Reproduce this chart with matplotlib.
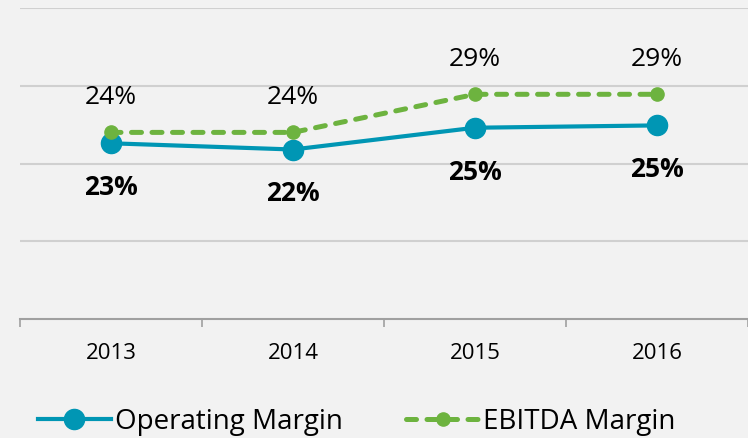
import matplotlib.pyplot as plt
from matplotlib.ticker import FixedLocator, NullFormatter

plt.rcParams["font.family"] = ["Open Sans", "DejaVu Sans"]

years = ["2013", "2014", "2015", "2016"]
operating = [0.226, 0.218, 0.246, 0.249]
ebitda = [0.240, 0.240, 0.289, 0.289]
operating_labels = ["23%", "22%", "25%", "25%"]
ebitda_labels = ["24%", "24%", "29%", "29%"]

BG = "#f2f2f2"
TEAL = "#0096b4"
GREEN = "#6db33f"

fig = plt.figure(figsize=(7.48, 4.38), dpi=100, facecolor=BG)
ax = fig.add_axes([20 / 748, 1 - 319 / 438, 728 / 748, 311 / 438])
ax.set_facecolor(BG)

x = list(range(len(years)))
ax.plot(x, operating, color=TEAL, lw=3, marker="o", ms=14.5,
        label="Operating Margin", zorder=3)
ax.plot(x, ebitda, color=GREEN, lw=3.6, ls=(0, (2.0, 2.1)), dash_capstyle="round",
        marker="o", ms=9.5, label="EBITDA Margin", zorder=4)

for xi, v, t in zip(x, operating, operating_labels):
    ax.annotate(t, (xi, v), xytext=(0, -32), textcoords="offset points",
                ha="center", va="center", fontsize=19, fontweight="bold")
for xi, v, t in zip(x, ebitda, ebitda_labels):
    ax.annotate(t, (xi, v), xytext=(0, 25), textcoords="offset points",
                ha="center", va="center", fontsize=19)

ax.set_xlim(-0.5, 3.5)
ax.set_ylim(0, 0.40)
ax.set_yticks([0.1, 0.2, 0.3, 0.4])
ax.yaxis.grid(True, color="#d0d0d0", lw=1.5)
ax.set_axisbelow(True)
ax.tick_params(axis="y", length=0, labelleft=False)

ax.set_xticks(x)
ax.set_xticklabels(years, fontsize=16)
ax.xaxis.set_minor_locator(FixedLocator([-0.5, 0.5, 1.5, 2.5, 3.5]))
ax.xaxis.set_minor_formatter(NullFormatter())
ax.tick_params(axis="x", which="major", length=0, pad=17)
ax.tick_params(axis="x", which="minor", length=6, width=1.2, color="#a0a0a0")

for s in ["top", "right", "left"]:
    ax.spines[s].set_visible(False)
ax.spines["bottom"].set_color("#a0a0a0")
ax.spines["bottom"].set_linewidth(1.5)

fig.legend(loc="center", bbox_to_anchor=(0.477, 1 - 422 / 438), ncol=2,
           frameon=False, fontsize=20, handlelength=2.6, columnspacing=2.3,
           handletextpad=0.15)

fig.savefig("out.png", dpi=100, facecolor=BG)
